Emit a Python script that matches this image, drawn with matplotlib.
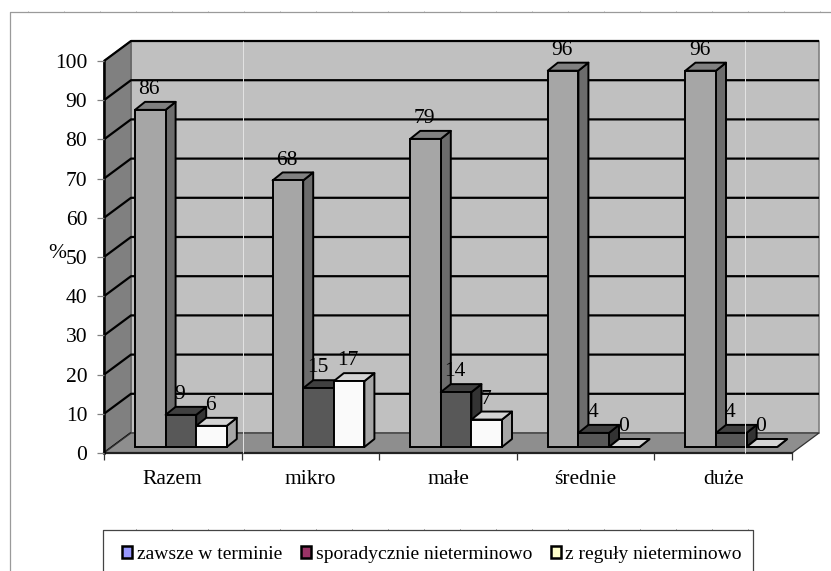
import matplotlib
matplotlib.use('Agg')
import matplotlib.pyplot as plt
from matplotlib.patches import Patch, Polygon

plt.rcParams['font.family'] = ['Liberation Serif', 'DejaVu Sans']

kategorie = ["Razem", "mikro", "małe", "średnie", "duże"]
serie = ["zawsze w terminie", "sporadycznie nieterminowo", "z reguły nieterminowo"]
zawsze = [86, 68, 78.6, 96, 96]
sporadycznie = [8.2, 15, 14, 3.6, 3.6]
z_reguly = [5.4, 16.8, 7, 0, 0]
etykiety_zawsze = ["86", "68", "79", "96", "96"]
etykiety_sporadycznie = ["9", "15", "14", "4", "4"]
etykiety_z_reguly = ["6", "17", "7", "0", "0"]
y_ticks = list(range(0, 101, 10))

W, H = 831, 571
fig = plt.figure(figsize=(W / 100, H / 100), dpi=100, facecolor='white')

# ramka i drobiazgi w pikselach
tlo = fig.add_axes([0, 0, 1, 1], zorder=0)
tlo.set_xlim(0, W)
tlo.set_ylim(H, 0)
tlo.axis('off')
tlo.plot([10, 10, W], [H, 12, 12], color='#9a9a9a', lw=0.9)
tlo.vlines(range(28, W, 36), 10.5, 12, color='#9a9a9a', lw=0.6)
tlo.plot([103, 103, 753, 753], [H, 530, 530, H], color='#444444', lw=0.9)
tlo.vlines(range(136, 753, 36), 528.5, 530, color='#444444', lw=0.6)

x0, x1, y0, y100 = 104, 792, 453, 61
ax = fig.add_axes([x0 / W, 1 - y0 / H, (x1 - x0) / W, (y0 - y100) / H], zorder=1)
ax.patch.set_alpha(0)
ax.set_xlim(0, 5)
ax.set_ylim(0, 100)
px_x = 5 / (x1 - x0)
px_y = 100 / (y0 - y100)

# glebia sciany i slupkow
dx, dy = 27 * px_x, 20 * px_y
bx, by = 10 * px_x, 8 * px_y
podstawa = 6 * px_y
start = 31 * px_x
szer = 30.6 * px_x

def poly(pts, fc, ec='black', lw=1.4, z=1):
    ax.add_patch(Polygon(pts, closed=True, facecolor=fc, edgecolor=ec, lw=lw,
                         zorder=z, clip_on=False, joinstyle='round'))

poly([(dx, dy), (5 + dx, dy), (5 + dx, 100 + dy), (dx, 100 + dy)], '#c0c0c0', ec='#808080', lw=1.2)
poly([(0, 0), (dx, dy), (dx, 100 + dy), (0, 100)], '#808080', ec='#666666', lw=1.2)
poly([(0, 0), (5, 0), (5 + dx, dy), (dx, dy)], '#8e8e8e', ec='#333333', lw=0.9, z=1.2)

for t in y_ticks:
    ax.plot([0, dx, 5 + dx if t > 0 else dx], [t, t + dy, t + dy],
            color='black', lw=1.6, zorder=1.1, clip_on=False, solid_capstyle='butt')

kolory = [('#a6a6a6', '#808080', '#6c6c6c'),
          ('#585858', '#404040', '#333333'),
          ('#fafafa', '#d4d4d4', '#a6a6a6')]
wartosci = [zawsze, sporadycznie, z_reguly]
etykiety = [etykiety_zawsze, etykiety_sporadycznie, etykiety_z_reguly]

for s, (front, gora, bok) in enumerate(kolory):
    z = 2 + s
    for i, v in enumerate(wartosci[s]):
        lewo = i + start + s * szer
        prawo = lewo + szer
        dol = podstawa
        top = podstawa + v
        poly([(prawo, dol), (prawo + bx, dol + by), (prawo + bx, top + by), (prawo, top)], bok, z=z)
        poly([(lewo, top), (prawo, top), (prawo + bx, top + by), (lewo + bx, top + by)], gora, z=z)
        ax.bar(lewo, v, szer, bottom=dol, align='edge', color=front, edgecolor='black',
               lw=1.4, zorder=z, clip_on=False)
        ax.text(lewo + szer / 2 - 1 * px_x, top + 5.2, etykiety[s][i], ha='center', va='center',
                fontsize=15.5, zorder=10, clip_on=False)

for side in ('top', 'right', 'bottom'):
    ax.spines[side].set_visible(False)
ax.spines['left'].set_linewidth(1.8)
ax.spines['left'].set_zorder(1.5)
ax.plot([0, 5], [0, 0], color='#222222', lw=1.6, zorder=1.5, clip_on=False)

ax.set_yticks(y_ticks)
ax.set_xticks(range(6))
ax.set_xticklabels([])
ax.set_xticks([i + 0.5 for i in range(5)], minor=True)
ax.set_xticklabels(kategorie, minor=True, fontsize=15.5)
ax.tick_params(axis='x', which='major', length=5, width=0.9, color='#333333')
ax.tick_params(axis='x', which='minor', length=0, pad=12)
ax.tick_params(axis='y', length=5, width=0.9, color='#808080', labelsize=15.5, pad=7)
ax.set_ylabel("%", rotation=0, fontsize=15.5, ha='center', va='center')
ax.yaxis.set_label_coords(-0.068, 0.51)

uchwyty = [Patch(facecolor=c, edgecolor='black', lw=1.8) for c in ('#9999ff', '#993366', '#ffffcc')]
leg = fig.legend(uchwyty, serie, ncol=3, loc='upper left',
                 bbox_to_anchor=(122 / W, 1 - 546 / H), borderaxespad=0,
                 fontsize=14, frameon=False, borderpad=0, handlelength=0.52, handleheight=0.52,
                 handletextpad=0.25, columnspacing=0.95, labelspacing=0)
leg.set_zorder(3)

# jasne pionowe prazki obecne w oryginale
wierzch = fig.add_axes([0, 0, 1, 1], zorder=2)
wierzch.set_xlim(0, W)
wierzch.set_ylim(H, 0)
wierzch.axis('off')
wierzch.vlines([243, 745], 41, 453, color='#e4e4e4', lw=0.7)

fig.savefig("out.png", dpi=100)
